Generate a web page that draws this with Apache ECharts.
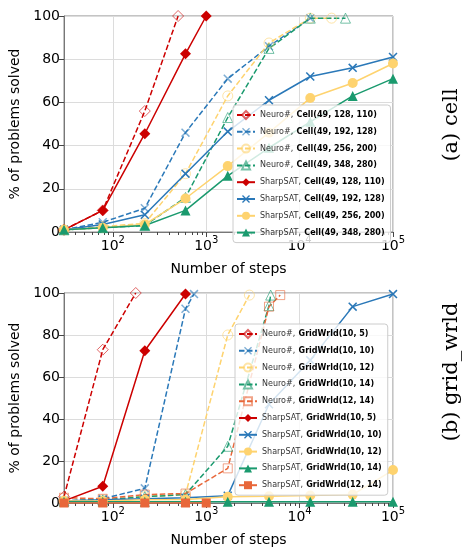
<!DOCTYPE html>
<html>
<head>
<meta charset="utf-8">
<script src="https://cdn.jsdelivr.net/npm/echarts@6/dist/echarts.min.js"></script>
<style>
html, body { margin: 0; padding: 0; background: #fff; }
#chart { width: 467px; height: 548px; }
</style>
</head>
<body>
<div id="chart"></div>
<script>
// number of steps (x, log scale) and % of problems solved (y)

// (a) cell
var cellN128Steps = [30, 78, 220, 500];
var cellN128Solved = [1, 10, 56, 100];
var cellN192Steps = [30, 78, 220, 600, 1700, 4700, 13000];
var cellN192Solved = [1, 4.5, 11, 46, 71, 86, 99];
var cellN256Steps = [30, 78, 220, 600, 1700, 4700, 13000, 22000];
var cellN256Solved = [1, 2.5, 4, 27, 63, 87.5, 99, 99];
var cellN348Steps = [30, 78, 220, 600, 1700, 4700, 13000, 31000];
var cellN348Solved = [1, 2, 3, 16, 53, 85, 99, 99];
var cellS128Steps = [30, 78, 220, 600, 1000];
var cellS128Solved = [1, 10, 45.5, 82.5, 100];
var cellS192Steps = [30, 78, 220, 600, 1700, 4700, 13000, 37000, 100000];
var cellS192Solved = [1, 3.5, 8, 27, 46.5, 61, 72, 76, 81];
var cellS256Steps = [30, 78, 220, 600, 1700, 4700, 13000, 37000, 100000];
var cellS256Solved = [1, 2, 3.5, 15.5, 30.5, 46, 62, 69, 78];
var cellS348Steps = [30, 78, 220, 600, 1700, 4700, 13000, 37000, 100000];
var cellS348Solved = [1, 2, 3, 10, 26, 39, 51, 63, 71];

// (b) grid_wrld
var gridN5Steps = [30, 78, 176];
var gridN5Solved = [3, 73, 100];
var gridN10Steps = [30, 78, 220, 600, 740];
var gridN10Solved = [1, 2, 7, 92.5, 99.5];
var gridN12Steps = [30, 78, 220, 600, 1700, 2900];
var gridN12Solved = [1, 1.5, 3, 4, 80, 99];
var gridN14Steps = [30, 78, 220, 600, 1700, 4700, 4900];
var gridN14Solved = [1, 1.5, 3, 4, 27, 94, 99];
var gridN1214Steps = [30, 78, 220, 600, 1700, 4700, 6200];
var gridN1214Solved = [2.5, 2, 4, 4.5, 16.5, 93.5, 99];
var gridS5Steps = [30, 78, 220, 600];
var gridS5Solved = [1, 8, 72.5, 99.5];
var gridS10Steps = [30, 78, 220, 600, 1700, 4700, 13000, 37000, 100000];
var gridS10Solved = [1, 1.5, 2, 2.5, 3.5, 47, 68, 93.5, 99.5];
var gridS12Steps = [30, 78, 220, 600, 1700, 4700, 13000, 37000, 100000];
var gridS12Solved = [1, 1, 1.5, 1.7, 3, 3.2, 3.6, 4, 15.7];
var gridS14Steps = [30, 78, 220, 600, 1700, 4700, 13000, 37000, 100000];
var gridS14Solved = [0.6, 0.6, 0.6, 0.6, 0.6, 0.6, 0.6, 0.6, 0.6];
var gridS1214Steps = [30, 78, 220, 600, 1000];
var gridS1214Solved = [0, 0, 0, 0, 0];

var majorTicks = [2, 3, 4, 5];
var tickLabels = { 2: '2', 3: '3', 4: '4', 5: '5' };

var RED = '#cc0000', BLUE = '#2a78b8', YELLOW = '#fed36f', GREEN = '#1a9a6e', ORANGE = '#e8673a';
var LMIN = Math.log10(30);

var minorTicks = [];
for (var e = 1; e < 5; e++) {
  for (var m = 2; m < 10; m++) {
    var v = Math.log10(m * Math.pow(10, e));
    if (v >= LMIN) minorTicks.push(v);
  }
}

var X_PATH = 'path://M0,1.2L1.2,0L10,8.8L8.8,10ZM8.8,0L10,1.2L1.2,10L0,8.8Z';
var SYMBOLS = { diamond: 'diamond', x: X_PATH, circle: 'circle', triangle: 'triangle', square: 'rect' };
var SIZES = { diamond: 11, x: 9, circle: 10, triangle: 10, square: 9 };

function fade(hex, a) {
  var n = parseInt(hex.slice(1), 16);
  return 'rgba(' + (n >> 16) + ',' + ((n >> 8) & 255) + ',' + (n & 255) + ',' + a + ')';
}

function mkLine(name, steps, solved, colour, shape, neuro, g) {
  var item;
  if (neuro) {
    item = shape === 'x'
      ? { color: fade(colour, 0.6), borderWidth: 0 }
      : { color: 'rgba(255,255,255,0)', borderColor: fade(colour, 0.6), borderWidth: 1 };
  } else {
    item = { color: colour, borderWidth: 0 };
  }
  return {
    name: name,
    type: 'line',
    xAxisIndex: g * 2,
    yAxisIndex: g,
    data: steps.map(function (s, i) { return [Math.log10(s), solved[i]]; }),
    symbol: SYMBOLS[shape],
    symbolSize: SIZES[shape],
    showAllSymbol: true,
    lineStyle: { color: colour, width: 1.5, type: neuro ? [5.5, 2.5] : 'solid' },
    itemStyle: item,
    emphasis: { disabled: true },
    z: neuro ? 2 : 3
  };
}

var series = [
  mkLine('Neuro#, Cell(49, 128, 110)', cellN128Steps, cellN128Solved, RED, 'diamond', true, 0),
  mkLine('Neuro#, Cell(49, 192, 128)', cellN192Steps, cellN192Solved, BLUE, 'x', true, 0),
  mkLine('Neuro#, Cell(49, 256, 200)', cellN256Steps, cellN256Solved, YELLOW, 'circle', true, 0),
  mkLine('Neuro#, Cell(49, 348, 280)', cellN348Steps, cellN348Solved, GREEN, 'triangle', true, 0),
  mkLine('SharpSAT, Cell(49, 128, 110)', cellS128Steps, cellS128Solved, RED, 'diamond', false, 0),
  mkLine('SharpSAT, Cell(49, 192, 128)', cellS192Steps, cellS192Solved, BLUE, 'x', false, 0),
  mkLine('SharpSAT, Cell(49, 256, 200)', cellS256Steps, cellS256Solved, YELLOW, 'circle', false, 0),
  mkLine('SharpSAT, Cell(49, 348, 280)', cellS348Steps, cellS348Solved, GREEN, 'triangle', false, 0),

  mkLine('Neuro#, GridWrld(10, 5)', gridN5Steps, gridN5Solved, RED, 'diamond', true, 1),
  mkLine('Neuro#, GridWrld(10, 10)', gridN10Steps, gridN10Solved, BLUE, 'x', true, 1),
  mkLine('Neuro#, GridWrld(10, 12)', gridN12Steps, gridN12Solved, YELLOW, 'circle', true, 1),
  mkLine('Neuro#, GridWrld(10, 14)', gridN14Steps, gridN14Solved, GREEN, 'triangle', true, 1),
  mkLine('Neuro#, GridWrld(12, 14)', gridN1214Steps, gridN1214Solved, ORANGE, 'square', true, 1),
  mkLine('SharpSAT, GridWrld(10, 5)', gridS5Steps, gridS5Solved, RED, 'diamond', false, 1),
  mkLine('SharpSAT, GridWrld(10, 10)', gridS10Steps, gridS10Solved, BLUE, 'x', false, 1),
  mkLine('SharpSAT, GridWrld(10, 12)', gridS12Steps, gridS12Solved, YELLOW, 'circle', false, 1),
  mkLine('SharpSAT, GridWrld(10, 14)', gridS14Steps, gridS14Solved, GREEN, 'triangle', false, 1),
  mkLine('SharpSAT, GridWrld(12, 14)', gridS1214Steps, gridS1214Solved, ORANGE, 'square', false, 1)
];

var FONT = 'DejaVu Sans';

function xAxes(g) {
  return [
    {
      gridIndex: g, type: 'value', position: 'bottom', min: LMIN, max: 5,
      name: 'Number of steps', nameLocation: 'middle', nameGap: 30,
      nameTextStyle: { fontFamily: FONT, fontSize: 14, color: '#000' },
      axisLine: { show: true, lineStyle: { color: '#777', width: 1 } },
      axisTick: { show: true, customValues: majorTicks, length: 5, lineStyle: { color: '#444' } },
      axisLabel: {
        customValues: majorTicks, margin: 3,
        formatter: function (v) { return '{a|10}{s|' + tickLabels[Math.round(v)] + '}'; },
        rich: {
          a: { fontFamily: FONT, fontSize: 14, color: '#000', lineHeight: 22 },
          s: { fontFamily: FONT, fontSize: 10, color: '#000', lineHeight: 10, verticalAlign: 'top' }
        }
      },
      splitLine: { show: true, lineStyle: { color: '#dcdcdc', width: 1 } }
    },
    {
      gridIndex: g, type: 'value', position: 'bottom', min: LMIN, max: 5,
      axisLine: { show: false },
      axisTick: { show: true, customValues: minorTicks, length: 3, lineStyle: { color: '#444' } },
      axisLabel: { show: false },
      splitLine: { show: false }
    }
  ];
}

function yAxis(g) {
  return {
    gridIndex: g, type: 'value', min: 0, max: 100, interval: 20,
    name: '% of problems solved', nameLocation: 'middle', nameGap: 39,
    nameTextStyle: { fontFamily: FONT, fontSize: 14, color: '#000' },
    axisLine: { show: true, lineStyle: { color: '#777', width: 1 } },
    axisTick: { show: true, length: 5, lineStyle: { color: '#444' } },
    axisLabel: { fontFamily: FONT, fontSize: 14, color: '#000', margin: 4 },
    splitLine: { show: true, lineStyle: { color: '#dcdcdc', width: 1 } }
  };
}

function legendFmt(name) {
  var i = name.indexOf(', ');
  return '{n|' + name.slice(0, i + 1) + '} {b|' + name.slice(i + 2) + '}';
}

function legend(g, left, top) {
  return {
    orient: 'vertical', left: left, top: top,
    data: series.filter(function (s) { return s.xAxisIndex === g * 2; }).map(function (s) { return s.name; }),
    itemWidth: 18, itemHeight: 10, itemGap: 4.8,
    padding: [4, 6, 4, 3],
    backgroundColor: 'rgba(255,255,255,0.8)',
    borderColor: '#cccccc', borderWidth: 1, borderRadius: 3,
    selectedMode: false,
    formatter: legendFmt,
    textStyle: {
      rich: {
        n: { fontFamily: FONT, fontSize: 8, lineHeight: 10, color: '#333' },
        b: { fontFamily: FONT, fontSize: 8, lineHeight: 10, color: '#000', fontWeight: 'bold' }
      }
    }
  };
}

var chart = echarts.init(document.getElementById('chart'));
chart.setOption({
  animation: false,
  backgroundColor: '#fff',
  grid: [
    { left: 64, top: 16, width: 329, height: 216, show: true, borderColor: '#888', borderWidth: 1 },
    { left: 64, top: 293, width: 329, height: 214, show: true, borderColor: '#888', borderWidth: 1 }
  ],
  xAxis: xAxes(0).concat(xAxes(1)),
  yAxis: [yAxis(0), yAxis(1)],
  legend: [legend(0, 233, 105), legend(1, 235, 324)],
  graphic: [
    {
      type: 'text', x: 452, y: 125, rotation: Math.PI / 2,
      style: { text: '(a) cell', fontFamily: 'DejaVu Serif', fontSize: 21, fill: '#000', align: 'center', verticalAlign: 'middle' }
    },
    {
      type: 'text', x: 452, y: 372, rotation: Math.PI / 2,
      style: { text: '(b) grid_wrld', fontFamily: 'DejaVu Serif', fontSize: 21, fill: '#000', align: 'center', verticalAlign: 'middle' }
    }
  ],
  series: series
});
</script>
</body>
</html>
